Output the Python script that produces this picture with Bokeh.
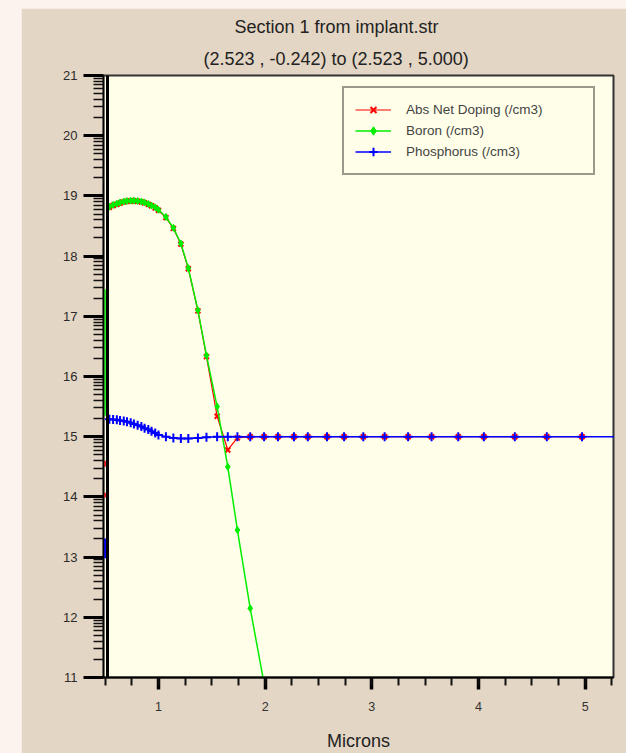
from bokeh.plotting import figure
from bokeh.models import FixedTicker, Span, Legend, LegendItem, Title, Range1d
from bokeh.layouts import column
from bokeh.embed import file_html
from bokeh.resources import INLINE
import math

# ---------------- data (log10 of concentration, /cm3) ----------------
depth = [0.54, 0.575, 0.61, 0.64, 0.675, 0.705, 0.74, 0.77, 0.805, 0.84,
         0.87, 0.905, 0.935, 0.97, 1.0, 1.07, 1.14, 1.21, 1.28, 1.37,
         1.45, 1.55, 1.65, 1.74, 1.86, 1.99, 2.12, 2.27, 2.40, 2.58,
         2.74, 2.92, 3.12, 3.34, 3.56, 3.81, 4.05, 4.34, 4.64, 4.97]

boron = [18.82, 18.85, 18.87, 18.89, 18.905, 18.915, 18.92, 18.92, 18.915, 18.905,
         18.89, 18.865, 18.84, 18.81, 18.77, 18.65, 18.47, 18.21, 17.80, 17.10,
         16.35, 15.50, 14.50, 13.45, 12.15, 10.90]

abs_net = [18.81, 18.84, 18.86, 18.88, 18.90, 18.91, 18.915, 18.915, 18.91, 18.90,
           18.885, 18.86, 18.835, 18.80, 18.76, 18.64, 18.46, 18.20, 17.79, 17.09,
           16.33, 15.34, 14.78, 14.98, 15.0, 15.0, 15.0, 15.0, 15.0, 15.0,
           15.0, 15.0, 15.0, 15.0, 15.0, 15.0, 15.0, 15.0, 15.0, 15.0]

phos_depth = depth + [5.30]
phosphorus = [15.29, 15.285, 15.28, 15.27, 15.26, 15.25, 15.23, 15.21, 15.19, 15.17,
              15.14, 15.12, 15.09, 15.06, 15.03, 15.0, 14.98, 14.97, 14.97, 14.98,
              14.99, 15.0, 15.0, 15.0, 15.0, 15.0, 15.0, 15.0, 15.0, 15.0,
              15.0, 15.0, 15.0, 15.0, 15.0, 15.0, 15.0, 15.0, 15.0, 15.0, 15.0]

# surface values piled up at the left edge of the section (depth 0.5)
surface_depth = 0.5
boron_surface = [(15.35, 17.45)]
abs_net_surface = [(13.99, 14.07), (14.50, 14.60)]
phos_surface = [(12.98, 13.31)]

x_major = [1, 2, 3, 4, 5]
x_minor = [0.5 + 0.25 * i for i in range(20)]
y_major = list(range(11, 22))
y_minor = [d + math.log10(k) for d in range(11, 21) for k in range(2, 10)]

title_text = "Section 1 from implant.str"
subtitle_text = "(2.523 , -0.242) to (2.523 , 5.000)"
x_label = "Microns"
labels = ["Abs Net Doping (/cm3)", "Boron (/cm3)", "Phosphorus (/cm3)"]

RED, GREEN, BLUE = "#ff0000", "#00ee00", "#0000ff"
FONT = "Liberation Sans"

# ---------------- figure ----------------
p = figure(width=605, height=745, x_range=Range1d(0.485, 5.265), y_range=Range1d(11, 21),
           output_backend="svg", toolbar_location=None, title=None,
           min_border_left=82, min_border_right=13, min_border_top=67, min_border_bottom=76,
           margin=(8, 0, 0, 21))
p.background_fill_color = "#fffee8"
p.border_fill_color = "#e4d6c4"
p.outline_line_color = "#333333"
p.outline_line_width = 2
p.grid.visible = False

# axes
xa = p.xaxis[0]
xa.ticker = FixedTicker(ticks=x_major, minor_ticks=x_minor)
xa.axis_label = x_label
xa.axis_label_text_font = FONT
xa.axis_label_text_font_size = "18px"
xa.axis_label_text_font_style = "normal"
xa.axis_label_text_color = "#222222"
xa.axis_label_standoff = 17
xa.major_label_text_font = FONT
xa.major_label_text_font_size = "12.5px"
xa.major_label_text_color = "#333333"
xa.major_label_standoff = 12
xa.axis_line_color = "black"
xa.axis_line_width = 2
xa.major_tick_in = 0
xa.major_tick_out = 12
xa.major_tick_line_width = 3.5
xa.major_tick_line_color = "black"
xa.minor_tick_in = 0
xa.minor_tick_out = 8
xa.minor_tick_line_width = 2
xa.minor_tick_line_color = "#111111"

ya = p.yaxis[0]
ya.ticker = FixedTicker(ticks=y_major, minor_ticks=y_minor)
ya.major_label_text_font = FONT
ya.major_label_text_font_size = "13px"
ya.major_label_text_color = "#2a2a2a"
ya.major_label_standoff = 6
ya.axis_line_color = "black"
ya.axis_line_width = 1.5
ya.major_tick_in = 0
ya.major_tick_out = 20
ya.major_tick_line_width = 3
ya.major_tick_line_color = "black"
ya.minor_tick_in = 0
ya.minor_tick_out = 10
ya.minor_tick_line_width = 1.5
ya.minor_tick_line_color = "#111111"

# thick left frame line
p.add_layout(Span(location=0.5225, dimension="height", line_color="black", line_width=3))

# ---------------- data glyphs ----------------
r_line = p.line(depth, abs_net, line_color=RED, line_width=1.2)
r_mk = p.scatter(depth, abs_net, marker="x", size=7, line_color=RED, line_width=2)
p.segment(x0=[surface_depth] * len(abs_net_surface), y0=[a for a, b in abs_net_surface],
          x1=[surface_depth] * len(abs_net_surface), y1=[b for a, b in abs_net_surface],
          line_color=RED, line_width=1.5)

bx = depth[:len(boron)]
g_line = p.line(bx, boron, line_color=GREEN, line_width=1.5)
g_mk = p.scatter(bx, boron, marker="diamond", size=7, line_color=GREEN, fill_color=GREEN)
p.segment(x0=[surface_depth] * len(boron_surface), y0=[a for a, b in boron_surface],
          x1=[surface_depth] * len(boron_surface), y1=[b for a, b in boron_surface],
          line_color=GREEN, line_width=1.5)

b_line = p.line(phos_depth, phosphorus, line_color=BLUE, line_width=1.5)
b_mk = p.scatter(phos_depth, phosphorus, marker="cross", size=9, line_color=BLUE, line_width=2)
p.segment(x0=[surface_depth] * len(phos_surface), y0=[a for a, b in phos_surface],
          x1=[surface_depth] * len(phos_surface), y1=[b for a, b in phos_surface],
          line_color=BLUE, line_width=2)

# ---------------- legend ----------------
legend = Legend(items=[LegendItem(label=labels[0], renderers=[r_line, r_mk]),
                       LegendItem(label=labels[1], renderers=[g_line, g_mk]),
                       LegendItem(label=labels[2], renderers=[b_line, b_mk])],
                location=(239, 502), orientation="vertical",
                border_line_color="#333333", border_line_width=2,
                background_fill_color="#fffee8", background_fill_alpha=1.0,
                padding=11, spacing=0, margin=0,
                glyph_width=36, glyph_height=21, label_height=21, label_width=176,
                label_standoff=15, label_text_font=FONT, label_text_font_size="13.5px",
                label_text_color="#444444")
p.add_layout(legend, "center")

# ---------------- titles ----------------
p.add_layout(Title(text=subtitle_text, align="left", offset=100, standoff=13,
                   text_font=FONT, text_font_size="18px", text_font_style="normal",
                   text_color="#222222"), "above")
p.add_layout(Title(text=title_text, align="left", offset=131, standoff=7,
                   text_font=FONT, text_font_size="18px", text_font_style="normal",
                   text_color="#222222"), "above")

layout = column(p, styles={"background-color": "#fcf3ee"})
open("out.html", "w").write(file_html(layout, INLINE))
